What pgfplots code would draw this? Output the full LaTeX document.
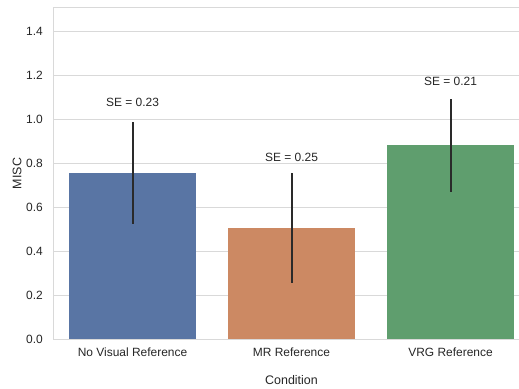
\documentclass[border=0pt]{standalone}
\usepackage{fontspec}
\setmainfont{Liberation Sans}
\usepackage{pgfplots}
\pgfplotsset{compat=1.18}
\definecolor{cblue}{HTML}{5975A4}
\definecolor{corange}{HTML}{CC8963}
\definecolor{cgreen}{HTML}{5F9E6E}
\definecolor{gridgray}{HTML}{D9D9D9}
\definecolor{textgray}{HTML}{262626}
\definecolor{errgray}{HTML}{2A2A2A}
\begin{document}
\begin{tikzpicture}
\useasboundingbox (0,0) rectangle (519bp,389bp);
\clip (0,0) rectangle (519bp,389bp);
\begin{axis}[
  at={(53bp,50bp)}, anchor=south west,
  scale only axis, width=477bp, height=331bp,
  xmin=-0.5, xmax=2.5, ymin=0, ymax=1.505,
  ybar, bar width=0.8, bar shift=0pt,
  xtick={0,1,2},
  xticklabels={No Visual Reference, MR Reference, VRG Reference},
  ytick={0,0.2,0.4,0.6,0.8,1.0,1.2,1.4},
  /pgf/number format/fixed, /pgf/number format/fixed zerofill, /pgf/number format/precision=1,
  /pgf/number format/assume math mode=true,
  major tick length=0pt,
  ymajorgrids, xmajorgrids=false,
  grid style={color=gridgray, line width=1bp},
  axis line style={color=gridgray, line width=1bp},
  ticklabel style={font=\fontsize{12}{14}\selectfont, text=textgray},
  xticklabel style={anchor=base, yshift=-17bp},
  yticklabel style={anchor=east, inner sep=0pt, xshift=-10bp},
  xlabel={Condition}, ylabel={MISC},
  every axis x label/.style={at={(rel axis cs:0.5,0)}, anchor=center, yshift=-41bp, font=\fontsize{12.5}{14}\selectfont, text=textgray},
  every axis y label/.style={at={(rel axis cs:0,0.5)}, anchor=center, rotate=90, yshift=36bp, font=\fontsize{12.5}{14}\selectfont, text=textgray},
  error bars/y dir=both, error bars/y explicit,
  error bars/error mark=none,
  error bars/error bar style={color=errgray, line width=2bp},
]
\addplot[fill=cblue, draw=none] coordinates {(0,0.755) +- (0,0.23)};
\addplot[fill=corange, draw=none] coordinates {(1,0.505) +- (0,0.25)};
\addplot[fill=cgreen, draw=none] coordinates {(2,0.88) +- (0,0.21)};
\node[anchor=base, font=\fontsize{12}{14}\selectfont, text=textgray] at (axis cs:0,1.055) {SE = 0.23};
\node[anchor=base, font=\fontsize{12}{14}\selectfont, text=textgray] at (axis cs:1,0.805) {SE = 0.25};
\node[anchor=base, font=\fontsize{12}{14}\selectfont, text=textgray] at (axis cs:2,1.152) {SE = 0.21};
\end{axis}
\end{tikzpicture}
\end{document}
